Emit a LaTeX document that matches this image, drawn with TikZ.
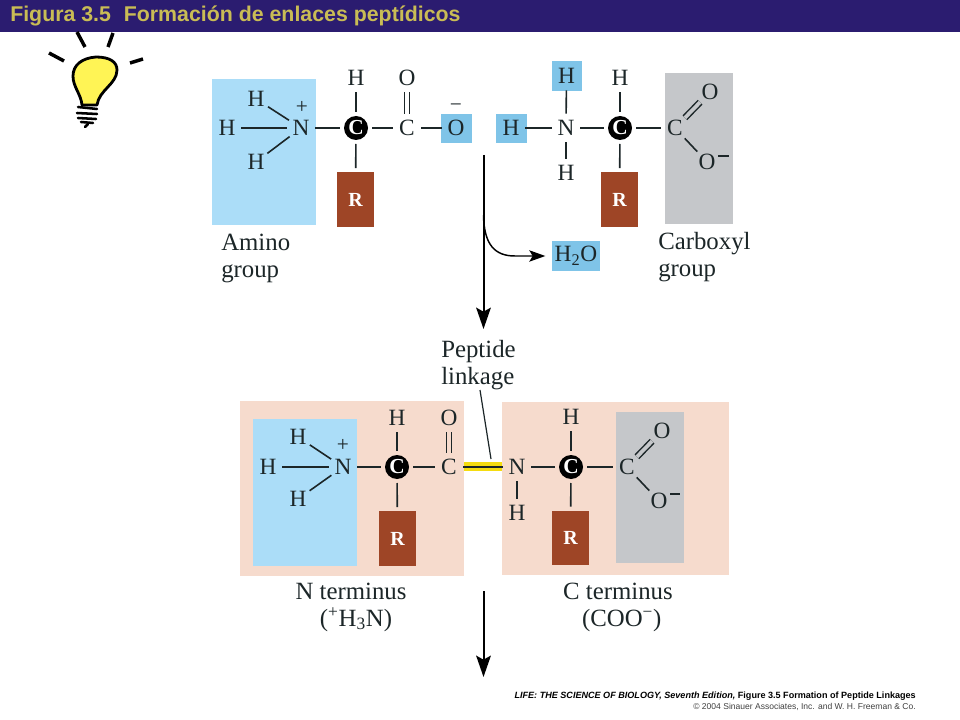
\documentclass[tikz,border=0pt]{standalone}
\usepackage{fontspec}
\setmainfont{Liberation Serif}
\newfontfamily\hdfont{Liberation Sans}
\usetikzlibrary{arrows.meta}
\definecolor{navy}{HTML}{2B1C70}
\definecolor{gold}{HTML}{C9BC55}
\definecolor{ink}{HTML}{1C2628}
\definecolor{lblue}{HTML}{ABDDF8}
\definecolor{mblue}{HTML}{7FC4E8}
\definecolor{rust}{HTML}{9E4526}
\definecolor{lgray}{HTML}{C5C7CA}
\definecolor{pinkbg}{HTML}{F6DBCD}
\definecolor{pbond}{HTML}{F5DC10}
\definecolor{bulb}{HTML}{FFF455}
\tikzset{
  atom/.style={circle,inner sep=0pt,minimum size=21pt,text=ink,font=\fontsize{17.5}{20}\selectfont},
  blackc/.style={circle,fill=black,inner sep=0pt,minimum size=18pt,outer sep=3pt,text=white,font=\fontsize{16}{18}\bfseries\selectfont},
  rbox/.style={rectangle,fill=rust,inner sep=0pt,minimum width=27.75pt,minimum height=41pt,outer sep=3pt,text=white,font=\fontsize{15}{18}\bfseries\selectfont},
  waterbox/.style={rectangle,fill=mblue,inner sep=0pt,minimum width=36pt,minimum height=22.5pt,outer sep=5pt,text=ink,font=\fontsize{17.5}{20}\selectfont},
  bond/.style={draw=ink,line width=1.2pt},
  dbl/.style={bond,line width=1.1pt,double distance=2.8pt},
  lbl/.style={inner sep=0pt,text=ink,font=\fontsize{18.6}{20.25}\selectfont},
  chg/.style={inner sep=0pt,text=ink,font=\fontsize{16}{18}\selectfont},
  flow/.style={draw=black,line width=1.5pt,-{Stealth[length=16pt,width=11pt,inset=3pt]}},
  flowb/.style={draw=black,line width=1.1pt,-{Stealth[length=12pt,width=8.5pt,inset=2.5pt]}},
  ray/.style={draw=black,line width=2.6pt},
  screw/.style={draw=black,line width=1.9pt,line cap=round}
}
\begin{document}
\begin{tikzpicture}[x=0.75pt,y=-0.75pt]
\useasboundingbox (0,0) rectangle (960,720);
\fill[white] (0,0) rectangle (960,720);
% header
\fill[navy] (0,0) rectangle (960,32);
\node[anchor=west,inner sep=0pt,text=gold,font=\hdfont\fontsize{16}{18}\bfseries\selectfont] (title) at (10,16) {Figura 3.5\hspace{0.6em}Formación de enlaces peptídicos};
% bulb
\draw[ray] (77,32) -- (85,47);
\draw[ray] (113,33) -- (108,47);
\draw[ray] (49,53) -- (64,61);
\draw[ray] (130,63) -- (143,59);
\draw[fill=bulb,draw=black,line width=2.1pt,line join=round]
  (82,105) .. controls (81,94) and (73,87) .. (73,76)
  .. controls (73,65) and (82,58) .. (96,57)
  .. controls (110,57) and (117,62) .. (117,70)
  .. controls (117,84) and (99,90) .. (97,105) -- cycle;
\draw[screw] (78,107) -- (97,109);
\draw[screw] (77,113) -- (97,114);
\draw[screw] (78,118) -- (96,119);
\draw[screw] (81,122) -- (93,123);
\draw[screw] (88,124) -- (85,127);
% backgrounds
\fill[lblue] (212,79) rectangle (316,225);
\fill[mblue] (441,114) rectangle (472,143);
\fill[mblue] (552,61) rectangle (582,91);
\fill[mblue] (496,114) rectangle (527,143);
\fill[lgray] (665,73) rectangle (733,224);
\fill[pinkbg] (240,401) rectangle (464,576);
\fill[pinkbg] (502,402) rectangle (729,575);
\fill[lblue] (253,419) rectangle (357,566);
\fill[lgray] (616,412) rectangle (684,563);
% top left molecule
\node[atom] (an) at (301,128) {N};
\node[atom] (ah1) at (256,99) {H};
\node[atom] (ah2) at (227,128) {H};
\node[atom] (ah3) at (256,162) {H};
\node[chg] (aplus) at (302,107) {+};
\node[blackc] (ac) at (356,128) {C};
\node[atom] (ach) at (356,78) {H};
\node[rbox] (ar) at (355.5,199.5) {R};
\node[atom] (ac2) at (407,128) {C};
\node[atom] (ao1) at (407,78) {O};
\node[atom] (ao2) at (456,128) {O};
\node[chg] (aminus) at (456,108) {−};
\draw[bond] (ah1) -- (an);
\draw[bond] (ah2) -- (an);
\draw[bond] (ah3) -- (an);
\draw[bond] (an) -- (ac);
\draw[bond] (ach) -- (ac);
\draw[bond] (ac) -- (ar);
\draw[bond] (ac) -- (ac2);
\draw[dbl,double=white] (ac2) -- (ao1);
\draw[bond] (ac2) -- (ao2);
% top right molecule
\node[atom] (bn) at (566,128) {N};
\node[atom] (bh1) at (566.5,76) {H};
\node[atom] (bh2) at (511,128) {H};
\node[atom] (bh3) at (566,173) {H};
\node[blackc] (bc) at (620,128) {C};
\node[atom] (bch) at (620,78) {H};
\node[rbox] (br) at (619.5,199.5) {R};
\node[atom] (bc2) at (675,128) {C};
\node[atom] (bo1) at (710,92) {O};
\node[atom] (bo2) at (707,162) {O};
\coordinate (bm1) at (718,156);
\coordinate (bm2) at (729,156);
\draw[bond] (bh1) -- (bn);
\draw[bond] (bh2) -- (bn);
\draw[bond] (bh3) -- (bn);
\draw[bond] (bn) -- (bc);
\draw[bond] (bch) -- (bc);
\draw[bond] (bc) -- (br);
\draw[bond] (bc) -- (bc2);
\draw[dbl,double=lgray] (bc2) -- (bo1);
\draw[bond] (bc2) -- (bo2);
\draw[bond] (bm1) -- (bm2);
% labels top
\node[lbl,anchor=west,align=left] (amino) at (221,258) {Amino\\group};
\node[lbl,anchor=west,align=left] (carb) at (658,257) {Carboxyl\\group};
\node[waterbox] (water) at (576,256) {H\textsubscript{2}O};
% reaction arrows
\coordinate (a1s) at (483.5,155);
\coordinate (a1e) at (483.5,329);
\coordinate (a1b) at (483.5,215);
\draw[flow] (a1s) -- (a1e);
\draw[flowb] (a1b) .. controls (484,245) and (495,256) .. (515,256) -- (water.west);
% peptide linkage
\node[lbl,anchor=west,align=left] (pep) at (441,365) {Peptide\\linkage};
\node[rectangle,fill=pbond,inner sep=0pt,minimum width=28.5pt,minimum height=7pt] (pb) at (483,466.5) {};
\coordinate (pl1) at (480,390);
\coordinate (pl2) at (491,459);
\draw[draw=ink,line width=0.9pt] (pl1) -- (pl2);
% bottom left
\node[atom] (cn) at (343,467) {N};
\node[atom] (ch1) at (298,437) {H};
\node[atom] (ch2) at (268,467) {H};
\node[atom] (ch3) at (298,499) {H};
\node[chg] (cplus) at (343,445) {+};
\node[blackc] (cc) at (397,467) {C};
\node[atom] (cch) at (397,418) {H};
\node[rbox] (cr) at (397.5,538.5) {R};
\node[atom] (cc2) at (449,467) {C};
\node[atom] (co1) at (449,418) {O};
\draw[bond] (ch1) -- (cn);
\draw[bond] (ch2) -- (cn);
\draw[bond] (ch3) -- (cn);
\draw[bond] (cn) -- (cc);
\draw[bond] (cch) -- (cc);
\draw[bond] (cc) -- (cr);
\draw[bond] (cc) -- (cc2);
\draw[dbl,double=pinkbg] (cc2) -- (co1);
% bottom right
\node[atom] (dn) at (517,467) {N};
\node[atom] (dh) at (517,513) {H};
\node[blackc] (dc) at (571,467) {C};
\node[atom] (dch) at (571,417) {H};
\node[rbox] (dr) at (570.5,538) {R};
\node[atom] (dc2) at (627,467) {C};
\node[atom] (do1) at (662,431) {O};
\node[atom] (do2) at (659,501) {O};
\coordinate (dm1) at (670,494);
\coordinate (dm2) at (680,494);
\draw[bond] (cc2) -- (dn);
\draw[bond] (dn) -- (dh);
\draw[bond] (dn) -- (dc);
\draw[bond] (dch) -- (dc);
\draw[bond] (dc) -- (dr);
\draw[bond] (dc) -- (dc2);
\draw[dbl,double=lgray] (dc2) -- (do1);
\draw[bond] (dc2) -- (do2);
\draw[bond] (dm1) -- (dm2);
% terminus labels
\node[lbl,align=center] (nt) at (351,607) {N terminus\\\hspace*{0.4em}(\textsuperscript{+}H\textsubscript{3}N)};
\node[lbl,align=center] (ct) at (618,607) {C terminus\\\hspace*{0.3em}(COO\textsuperscript{−})};
\coordinate (a2s) at (483.5,591);
\coordinate (a2e) at (483.5,677);
\draw[flow] (a2s) -- (a2e);
% credits
\node[anchor=east,inner sep=0pt,text=black,font=\hdfont\fontsize{6.8}{8}\bfseries\selectfont] (cr1) at (916,696) {\textit{LIFE: THE SCIENCE OF BIOLOGY, Seventh Edition,} Figure 3.5 Formation of Peptide Linkages};
\node[anchor=east,inner sep=0pt,text=black!75,font=\hdfont\fontsize{6.4}{8}\selectfont] (cr2) at (916,707) {© 2004 Sinauer Associates, Inc. and W. H. Freeman \& Co.};
\end{tikzpicture}
\end{document}
